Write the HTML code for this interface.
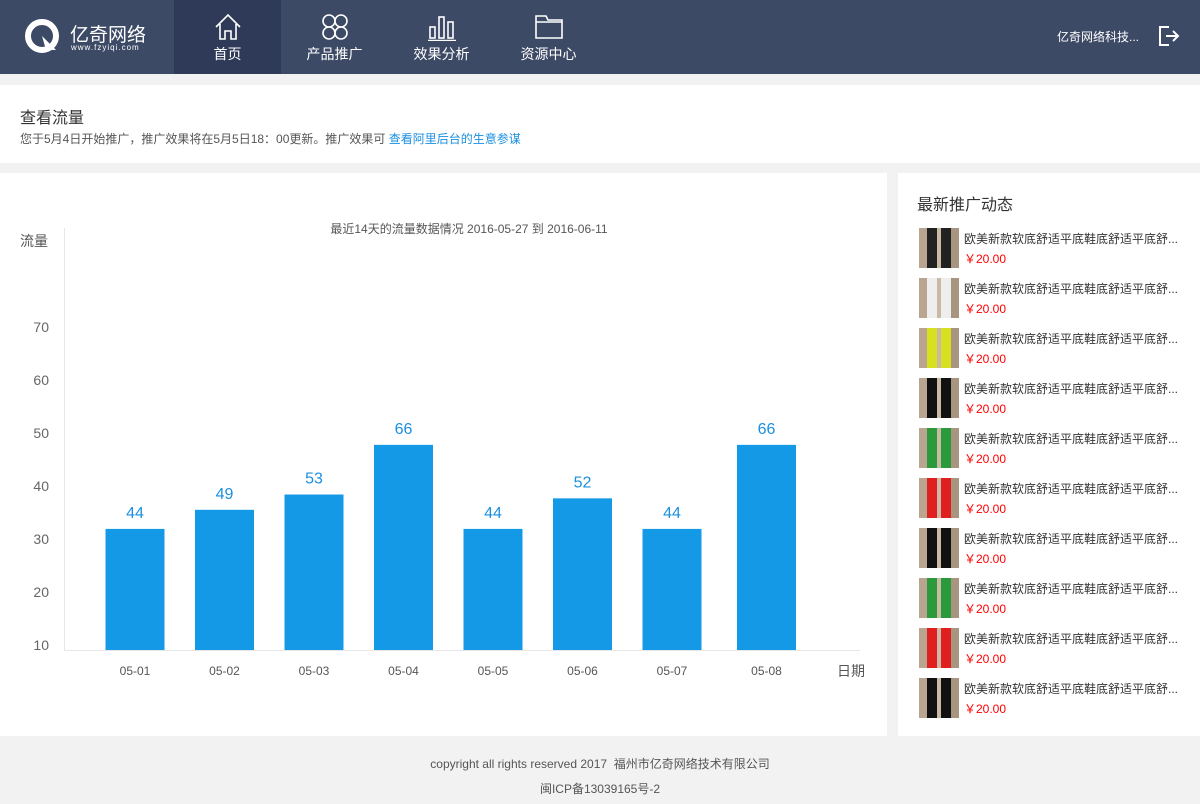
<!DOCTYPE html>
<html><head><meta charset="utf-8">
<style>
*{margin:0;padding:0;box-sizing:border-box}
body{width:1200px;height:804px;background:#f2f2f2;font-family:"Liberation Sans","Noto Sans CJK SC",sans-serif;position:relative;overflow:hidden;color:#333}
.hdr{position:absolute;left:0;top:0;width:1200px;height:74px;background:#3d4a66}
.tab{position:absolute;top:0;height:74px;width:107px;color:#fff;font-size:14px;text-align:center}
.tab span{position:absolute;left:0;right:0;top:44px}
.tab svg{position:absolute;left:39px;top:13px}
.abs{position:absolute}
.item{position:absolute;left:919px;width:270px;height:40px}
.item .th{position:absolute;left:0;top:0;width:40px;height:40px}
.item .t{position:absolute;left:45px;top:2px;font-size:12px;color:#333;white-space:nowrap}
.item .p{position:absolute;left:45px;top:22px;font-size:12px;color:#f00}
</style></head><body>
<div class="hdr">
 <div class="abs" style="left:24px;top:17px;width:130px;height:40px">
  <svg width="38" height="38" style="position:absolute;left:0;top:0"><circle cx="18" cy="19" r="14" fill="none" stroke="#fff" stroke-width="6"/><path d="M18 19 L32 33 L22 33Z" fill="#fff"/></svg>
  <div class="abs" style="left:46px;top:3px;color:#fff;font-size:19px">亿奇网络</div>
  <div class="abs" style="left:47px;top:26px;color:#fff;font-size:8px;letter-spacing:1px">www.fzyiqi.com</div>
 </div>
 <div class="tab" style="left:174px;background:#2e3a57"><svg width="30" height="28"><path d="M3 14 L15 2 L27 14 M7 11 V26 H12 V18 H18 V26 H23 V11" fill="none" stroke="#fff" stroke-width="1.6"/></svg><span>首页</span></div>
 <div class="tab" style="left:281px"><svg width="30" height="28"><circle cx="9" cy="8" r="6" fill="none" stroke="#fff" stroke-width="1.6"/><circle cx="21" cy="8" r="6" fill="none" stroke="#fff" stroke-width="1.6"/><circle cx="9" cy="20" r="6" fill="none" stroke="#fff" stroke-width="1.6"/><circle cx="21" cy="20" r="6" fill="none" stroke="#fff" stroke-width="1.6"/></svg><span>产品推广</span></div>
 <div class="tab" style="left:388px"><svg width="30" height="28"><rect x="3" y="14" width="5" height="11" fill="none" stroke="#fff" stroke-width="1.6"/><rect x="12" y="4" width="5" height="21" fill="none" stroke="#fff" stroke-width="1.6"/><rect x="21" y="9" width="5" height="16" fill="none" stroke="#fff" stroke-width="1.6"/><path d="M1 27.5 H29" stroke="#fff" stroke-width="1.6"/></svg><span>效果分析</span></div>
 <div class="tab" style="left:495px"><svg width="30" height="28"><path d="M2 3 H12 L14 7 H28 V25 H2Z M2 9 H28" fill="none" stroke="#fff" stroke-width="1.6"/></svg><span>资源中心</span></div>
 <div class="abs" style="left:1057px;top:28px;color:#fff;font-size:12px">亿奇网络科技...</div>
 <svg class="abs" style="left:1158px;top:25px" width="24" height="22"><path d="M11 2 H2 V20 H11" fill="none" stroke="#fff" stroke-width="2"/><path d="M8 11 H20 M15 6 L20 11 L15 16" fill="none" stroke="#fff" stroke-width="2"/></svg>
</div>

<div class="abs" style="left:0;top:85px;width:1200px;height:78px;background:#fff">
 <div class="abs" style="left:20px;top:19px;font-size:16px;color:#333">查看流量</div>
 <div class="abs" style="left:20px;top:45px;font-size:12px;color:#555;white-space:nowrap">您于5月4日开始推广，推广效果将在5月5日18：00更新。推广效果可 <span style="color:#1a8fe0">查看阿里后台的生意参谋</span></div>
</div>

<div class="abs" style="left:0;top:173px;width:887px;height:563px;background:#fff">
<svg id="chart" width="887" height="563" style="font-family:'Liberation Sans','Noto Sans CJK SC',sans-serif"></svg>
</div>

<div class="abs" style="left:898px;top:173px;width:302px;height:563px;background:#fff">
 <div class="abs" style="left:19px;top:18px;font-size:16px;color:#333">最新推广动态</div>
</div>
<div id="list"></div>

<div class="abs" style="left:0;top:736px;width:1200px;height:68px;text-align:center;font-size:12px;color:#555">
 <div style="position:absolute;top:19px;width:100%">copyright all rights reserved 2017&nbsp; 福州市亿奇网络技术有限公司</div>
 <div style="position:absolute;top:44px;width:100%">闽ICP备13039165号-2</div>
</div>

<script>
const categories=["05-01","05-02","05-03","05-04","05-05","05-06","05-07","05-08"];
const values=[44,49,53,66,44,52,44,66];
const yTicks=[10,20,30,40,50,60,70];
const NS="http://www.w3.org/2000/svg";
const svg=document.getElementById('chart');
const OY=173;
function mk(tag,attrs,txt){const e=document.createElementNS(NS,tag);for(const k in attrs)e.setAttribute(k,attrs[k]);if(txt!==undefined)e.textContent=txt;svg.appendChild(e);return e;}
const base=650-OY;
function yBar(v){return base-(v-12.3)*3.82;}
function yTick(v){return 645-OY-(v-10)*5.3;}
function xC(i){return 135+i*89.5+(i===categories.length-1?5:0);}
const ax=mk('line',{x1:64.5,y1:228-OY,x2:64.5,y2:base,stroke:'#e6e6e6'});

const bx=mk('line',{x1:64,y1:base+0.5,x2:860,y2:base+0.5,stroke:'#e6e6e6'});

yTicks.forEach(t=>{const e=mk('text',{x:49,y:yTick(t)+5,'text-anchor':'end','font-size':14,fill:'#666'},t);

});
categories.forEach((c,i)=>{
 const x=xC(i),y=yBar(values[i]);
 const r=mk('rect',{x:x-29.5,y:y,width:59,height:base-y,fill:'#1499e6'});
 
 
 const v=mk('text',{x:x,y:y-11,'text-anchor':'middle','font-size':16,fill:'#1a8fe0'},values[i]);
 
 
 const l=mk('text',{x:x,y:675-OY,'text-anchor':'middle','font-size':12,fill:'#555'},c);
 
 
});
const t=mk('text',{x:469,y:233-OY,'text-anchor':'middle','font-size':12,fill:'#555'},'最近14天的流量数据情况  2016-05-27 到 2016-06-11');

const yl=mk('text',{x:20,y:246-OY,'font-size':14,fill:'#555'},'流量');

const xl=mk('text',{x:837,y:676-OY,'font-size':14,fill:'#555'},'日期');


const shirts=['#222','#eee','#d8e020','#111','#2a9a3a','#e02020','#111','#2a9a3a','#e02020','#111'];
const list=document.getElementById('list');
shirts.forEach((c,i)=>{
 const d=document.createElement('div');
 d.className='item';d.style.top=(228+i*50)+'px';
 
 
 d.innerHTML='<div class="th" style="background:linear-gradient(90deg,#b9a590 0,#b9a590 20%,'+c+' 20%,'+c+' 45%,#c9b9a5 45%,#c9b9a5 55%,'+c+' 55%,'+c+' 80%,#a89580 80%)"></div><div class="t">欧美新款软底舒适平底鞋底舒适平底舒...</div><div class="p">￥20.00</div>';
 list.appendChild(d);
});
</script>
</body></html>
